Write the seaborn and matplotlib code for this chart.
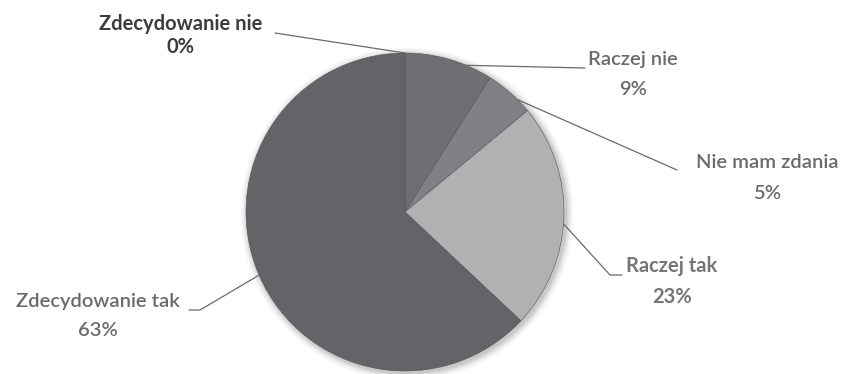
import numpy as np
import matplotlib
matplotlib.use("Agg")
import matplotlib.pyplot as plt
import seaborn as sns
from matplotlib.patches import Circle

categories = ["Zdecydowanie nie", "Raczej nie", "Nie mam zdania", "Raczej tak", "Zdecydowanie tak"]
values = [0, 9, 5, 23, 63]
pct_labels = ["0%", "9%", "5%", "23%", "63%"]

colors = ["#5e5e62", "#6f6f73", "#818185", "#b1b1b4", "#646468"]

sns.set_theme(style="white")
plt.rcParams['font.family'] = ['Lato', 'DejaVu Sans']

W, H = 849, 374
fig = plt.figure(figsize=(W / 100, H / 100), dpi=100)
ax = fig.add_axes([0, 0, 1, 1])

cx, cy, R = 405, 212, 159

# soft shadow
for i, a in enumerate(np.linspace(0.05, 0.012, 7)):
    ax.add_patch(Circle((cx + 2, cy + 2), R + 1 + i * 1.2, color="black", alpha=a, lw=0, zorder=0))

# y axis is inverted (pixel coords), so start at -90 and go counterclockwise in data
# space to appear clockwise from 12 o'clock
wedges, _ = ax.pie(values, colors=colors, startangle=-90, counterclock=True,
                   center=(cx, cy), radius=R, frame=True,
                   wedgeprops=dict(edgecolor="#555555", linewidth=0.4))
ax.set_xlim(0, W)
ax.set_ylim(H, 0)
ax.set_aspect("auto")
ax.axis("off")

# frac: where along the wedge the leader line touches the rim
layout = [
    dict(tx=181, ty=24, py=47, frac=0.5, pts=[(275, 33)], col="#3c3c3c", w="bold"),
    dict(tx=633, ty=59, py=89, frac=0.7, pts=[(585, 68)], col="#6a6a6a", w="semibold"),
    dict(tx=767, ty=162, py=193, frac=0.7, pts=[(677, 170)], col="#6a6a6a", w="semibold"),
    dict(tx=672, ty=266, py=297, frac=0.53, pts=[(610, 275), (622, 275)], col="#767676", w="bold"),
    dict(tx=98, ty=302, py=330, frac=0.5, pts=[(200, 310), (189, 310)], col="#6a6a6a", w="semibold"),
]

for i, (wdg, lay) in enumerate(zip(wedges, layout)):
    ang = np.deg2rad(wdg.theta1 + lay["frac"] * (wdg.theta2 - wdg.theta1))
    ax_ = cx + R * np.cos(ang)
    ay_ = cy + R * np.sin(ang)
    xs = [ax_] + [p[0] for p in lay["pts"]]
    ys = [ay_] + [p[1] for p in lay["pts"]]
    ax.plot(xs, ys, color="#6a6a6a", lw=0.9, zorder=5)
    ax.text(lay["tx"], lay["ty"], categories[i], ha="center", va="center",
            fontsize=14.5, color=lay["col"], fontweight=lay["w"])
    ax.text(lay["tx"], lay["py"], pct_labels[i], ha="center", va="center",
            fontsize=14.5, color=lay["col"], fontweight=lay["w"])

fig.savefig("out.png", dpi=100)
